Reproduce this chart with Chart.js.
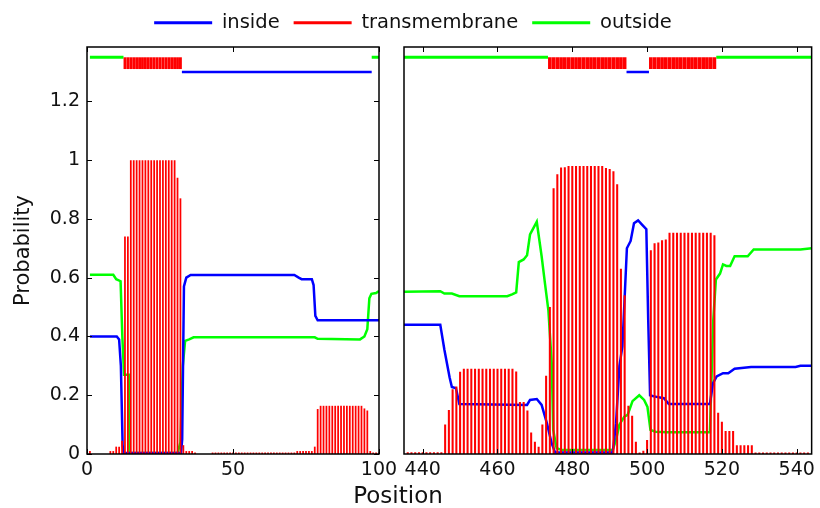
<!DOCTYPE html>
<html>
<head>
<meta charset="utf-8">
<script src="https://cdn.jsdelivr.net/npm/chart.js@4.4.1/dist/chart.umd.min.js"></script>
<style>
  html, body { margin: 0; padding: 0; background: #fff; }
  #fig { position: relative; width: 820px; height: 508px; overflow: hidden; }
  #fig canvas { position: absolute; }
</style>
</head>
<body>
<div id="fig">
  <canvas id="left" width="420" height="508" style="left:0;top:0"></canvas>
  <canvas id="right" width="430" height="508" style="left:390px;top:0"></canvas>
  <canvas id="legend" width="820" height="60" style="left:0;top:-1px"></canvas>
  <canvas id="xtitle" width="796" height="508" style="left:0;top:3px"></canvas>
</div>

<script>
Chart.defaults.font.family = "'DejaVu Sans', sans-serif";
Chart.defaults.color = '#111';
Chart.defaults.animation = false;

// legend / series
const seriesNames = ['inside', 'transmembrane', 'outside'];
const seriesColors = ['#0000ff', '#ff0000', '#00ff00'];

// ticks
const yTicks = [0, 0.2, 0.4, 0.6, 0.8, 1, 1.2];
const leftXTicks = [0, 50, 100];
const rightXTicks = [440, 460, 480, 500, 520, 540];

// transmembrane probability per residue, left panel starts at residue 1
const leftStart = 1;
const leftTM = [
  0.01, 0, 0, 0, 0, 0, 0, 0.01, 0.01, 0.025,
  0.025, 0.045, 0.74, 0.74, 1, 1, 1, 1, 1, 1,
  1, 1, 1, 1, 1, 1, 1, 1, 1, 1,
  0.94, 0.87, 0.03, 0.01, 0.01, 0.01, 0.005, 0, 0, 0,
  0, 0, 0.005, 0.005, 0.005, 0.005, 0.005, 0.005, 0.005, 0.005,
  0.005, 0.005, 0.005, 0.005, 0.005, 0.005, 0.005, 0.005, 0.005, 0.005,
  0.005, 0.005, 0.005, 0.005, 0.005, 0.005, 0.005, 0.005, 0.005, 0.005,
  0.005, 0.01, 0.01, 0.01, 0.01, 0.01, 0.01, 0.025, 0.153, 0.164,
  0.164, 0.164, 0.164, 0.164, 0.164, 0.164, 0.164, 0.164, 0.164, 0.164,
  0.164, 0.164, 0.164, 0.164, 0.155, 0.148, 0.01, 0.005, 0.005, 0.005
];

// right panel starts at residue 435
const rightStart = 435;
const rightTM = [
  0, 0.006, 0.006, 0.006, 0.006, 0.006, 0.006, 0.006, 0.006, 0.006,
  0.006, 0.10, 0.15, 0.22, 0.23, 0.28, 0.29, 0.29, 0.29, 0.29,
  0.29, 0.29, 0.29, 0.29, 0.29, 0.29, 0.29, 0.29, 0.29, 0.29,
  0.281, 0.177, 0.177, 0.148, 0.073, 0.042, 0.025, 0.10, 0.266, 0.50,
  0.904, 0.952, 0.975, 0.976, 0.98, 0.98, 0.98, 0.98, 0.98, 0.98,
  0.98, 0.98, 0.98, 0.98, 0.973, 0.97, 0.962, 0.918, 0.63, 0.54,
  0.164, 0.13, 0.042, 0.005, 0.011, 0.048, 0.693, 0.717, 0.72, 0.727,
  0.73, 0.753, 0.753, 0.753, 0.753, 0.753, 0.753, 0.753, 0.753, 0.753,
  0.753, 0.753, 0.753, 0.744, 0.14, 0.11, 0.078, 0.078, 0.078, 0.03,
  0.03, 0.03, 0.03, 0.03, 0.005, 0.005, 0.005, 0.005, 0.005, 0.005,
  0.005, 0.005, 0.005, 0.005, 0.005, 0.005, 0.005, 0.005, 0.005, 0
];

// inside / outside probability curves, [position, value]
const leftInside = [
  [1, 0.40], [10.2, 0.40], [11, 0.39], [11.6, 0.30], [12.2, 0.03], [12.6, 0.003],
  [32.2, 0.003], [32.6, 0.05], [33.2, 0.57], [34, 0.60], [35.5, 0.609], [71, 0.609],
  [72.5, 0.60], [73.5, 0.595], [77, 0.595], [77.6, 0.575], [78.2, 0.47], [79, 0.455],
  [100, 0.455]
];
const leftOutside = [
  [1, 0.61], [9, 0.61], [10, 0.595], [11.5, 0.588], [12.1, 0.40], [12.7, 0.27],
  [14.3, 0.27], [14.6, 0.003], [31, 0.003], [32, 0.04], [32.8, 0.30], [33.6, 0.385],
  [35, 0.39], [36.5, 0.397], [78, 0.397], [79, 0.392], [93.5, 0.39], [95, 0.40],
  [96, 0.425], [96.7, 0.53], [97.4, 0.545], [99, 0.548], [100, 0.555]
];
const rightInside = [
  [435, 0.44], [444.7, 0.44], [445.8, 0.355], [447.2, 0.26], [447.8, 0.228], [448.9, 0.224],
  [449.8, 0.17], [467.9, 0.167], [468.7, 0.184], [470.5, 0.187], [471.8, 0.167], [473.2, 0.105],
  [474.5, 0.036], [475.4, 0.005], [490.8, 0.005], [491.7, 0.105], [492.6, 0.30], [493.4, 0.366],
  [494.6, 0.70], [495.6, 0.725], [496.5, 0.785], [497.6, 0.795], [498.7, 0.78], [499.8, 0.765],
  [500.3, 0.457], [500.8, 0.20], [501.8, 0.196], [504.5, 0.19], [505.8, 0.17], [516.8, 0.17],
  [517.6, 0.24], [518.6, 0.264], [520.3, 0.275], [521.7, 0.275], [523.4, 0.29], [527.8, 0.296],
  [539.7, 0.296], [541, 0.30], [544, 0.30]
];
const rightOutside = [
  [435, 0.552], [444.7, 0.554], [445.8, 0.546], [447.8, 0.546], [449.8, 0.537], [462.6, 0.537],
  [463.9, 0.543], [465, 0.55], [465.7, 0.653], [467, 0.662], [467.9, 0.676], [468.7, 0.747],
  [470.5, 0.79], [471.8, 0.673], [472.7, 0.58], [473.6, 0.49], [474.5, 0.31], [474.9, 0.082],
  [475.8, 0.02], [477.1, 0.014], [490.8, 0.014], [491.7, 0.048], [492.6, 0.10], [493.9, 0.127],
  [494.8, 0.133], [496.1, 0.18], [497.9, 0.20], [499.2, 0.184], [500.1, 0.16], [500.9, 0.082],
  [502.2, 0.076], [505.3, 0.074], [516.8, 0.074], [517.7, 0.457], [518.4, 0.594], [519.5, 0.614],
  [520.3, 0.645], [521.2, 0.64], [522.2, 0.64], [523.4, 0.673], [526.9, 0.673], [528.5, 0.696],
  [541, 0.696], [544, 0.70]
];

// predicted topology drawn as a strip above the curves
const stripLevels = { outside: 1.35, tmLow: 1.31, tmHigh: 1.35, inside: 1.30 };
const leftTopology = {
  outside: [[1, 12.5], [97.5, 100]],
  tm: [[12.5, 32.5]],
  inside: [[32.5, 97.5]]
};
const rightTopology = {
  outside: [[435, 473.5], [518.5, 544]],
  tm: [[473.5, 494.5], [500.5, 518.5]],
  inside: [[494.5, 500.5]]
};

function toPoints(pairs) {
  return pairs.map(p => ({ x: p[0], y: p[1] }));
}
function barPoints(start, values) {
  return values.map((v, i) => ({ x: start + i, y: v }));
}
function segLine(segs, level) {
  const pts = [];
  segs.forEach(s => {
    pts.push({ x: s[0], y: level }, { x: s[1], y: level }, { x: s[1], y: null });
  });
  return pts;
}
function tmStrip(segs) {
  const pts = [];
  segs.forEach(s => {
    for (let n = Math.ceil(s[0]); n + 0.5 <= s[1]; n++) {
      pts.push({ x: n, y: [stripLevels.tmLow, stripLevels.tmHigh] });
    }
  });
  return pts;
}

const blue = seriesColors[0], red = seriesColors[1], green = seriesColors[2];

function panelDatasets(start, tm, inside, outside, topo, barPct) {
  return [
    { type: 'line', label: 'inside', data: toPoints(inside), borderColor: blue,
      borderWidth: 2.5, pointRadius: 0, order: 2 },
    { type: 'line', label: 'outside', data: toPoints(outside), borderColor: green,
      borderWidth: 2.5, pointRadius: 0, order: 2 },
    { type: 'bar', label: 'transmembrane', data: barPoints(start, tm), backgroundColor: red,
      barPercentage: barPct, categoryPercentage: 1, grouped: false, order: 1 },
    { type: 'line', label: 'inside strip', data: segLine(topo.inside, stripLevels.inside),
      borderColor: blue, borderWidth: 2.5, pointRadius: 0, order: 2 },
    { type: 'line', label: 'outside strip', data: segLine(topo.outside, stripLevels.outside),
      borderColor: green, borderWidth: 3, pointRadius: 0, order: 2 },
    { type: 'bar', label: 'tm strip', data: tmStrip(topo.tm), backgroundColor: red,
      barPercentage: 0.97, categoryPercentage: 1, grouped: false, order: 1 }
  ];
}

// box round the plot area with inward ticks, like the original axes
const framePlugin = {
  id: 'frame',
  afterDraw(chart, args, opts) {
    const { ctx, chartArea: a, scales } = chart;
    const len = 5;
    ctx.save();
    ctx.strokeStyle = '#000';
    ctx.lineWidth = 1.5;
    ctx.strokeRect(a.left, a.top, a.right - a.left, a.bottom - a.top);
    ctx.lineWidth = 1;
    ctx.beginPath();
    scales.x.ticks.forEach(t => {
      const px = Math.round(scales.x.getPixelForValue(t.value)) + 0.5;
      ctx.moveTo(px, a.bottom); ctx.lineTo(px, a.bottom - len);
      ctx.moveTo(px, a.top); ctx.lineTo(px, a.top + len);
    });
    if (opts.yTicks) {
      scales.y.ticks.forEach(t => {
        const py = Math.round(scales.y.getPixelForValue(t.value)) + 0.5;
        ctx.moveTo(a.left, py); ctx.lineTo(a.left + len, py);
        ctx.moveTo(a.right, py); ctx.lineTo(a.right - len, py);
      });
    }
    ctx.stroke();
    ctx.restore();
  }
};

const tickFont = { size: 19 };

function xScale(min, max, ticks) {
  return {
    type: 'linear', min: min, max: max, offset: false,
    grid: { display: false, drawTicks: false },
    border: { display: false },
    ticks: { padding: 5, font: tickFont, maxRotation: 0, autoSkip: false, callback: v => String(v) },
    afterBuildTicks: s => { s.ticks = ticks.map(v => ({ value: v })); },
    afterFit: s => { s.height = 54; }
  };
}

new Chart(document.getElementById('left'), {
  type: 'bar',
  data: { datasets: panelDatasets(leftStart, leftTM, leftInside, leftOutside, leftTopology, 0.6) },
  options: {
    responsive: false,
    layout: { padding: { top: 47, right: 41, bottom: 0, left: 0 } },
    scales: {
      x: xScale(0, 100, leftXTicks),
      y: {
        type: 'linear', min: 0, max: 1.385,
        grid: { display: false, drawTicks: false },
        border: { display: false },
        ticks: { padding: 7, font: tickFont, callback: v => String(v) },
        afterBuildTicks: s => { s.ticks = yTicks.map(v => ({ value: v })); },
        title: { display: true, text: 'Probability', font: { size: 21 }, padding: { top: 11, bottom: 0 } },
        afterFit: s => { s.width = 87; }
      }
    },
    plugins: { legend: { display: false }, tooltip: { enabled: false }, frame: { yTicks: true } }
  },
  plugins: [framePlugin]
});

new Chart(document.getElementById('right'), {
  type: 'bar',
  data: { datasets: panelDatasets(rightStart, rightTM, rightInside, rightOutside, rightTopology, 0.55) },
  options: {
    responsive: false,
    layout: { padding: { top: 47, right: 5, bottom: 0, left: 14 } },
    scales: {
      x: xScale(435, 544, rightXTicks),
      y: { type: 'linear', min: 0, max: 1.385, display: false }
    },
    plugins: { legend: { display: false }, tooltip: { enabled: false }, frame: { yTicks: false } }
  },
  plugins: [framePlugin]
});

// shared legend across both panels
new Chart(document.getElementById('legend'), {
  type: 'line',
  data: {
    datasets: seriesNames.map((n, i) => ({
      label: n, data: [], borderColor: seriesColors[i], backgroundColor: seriesColors[i], borderWidth: 3
    }))
  },
  options: {
    responsive: false,
    layout: { padding: { left: 6 } },
    scales: { x: { display: false }, y: { display: false } },
    plugins: {
      tooltip: { enabled: false },
      legend: {
        display: true, position: 'top',
        labels: { usePointStyle: true, pointStyle: 'line', pointStyleWidth: 58, padding: 14, font: { size: 19.5 } }
      }
    }
  }
});

// shared x axis title
new Chart(document.getElementById('xtitle'), {
  type: 'line',
  data: { datasets: [] },
  options: {
    responsive: false,
    scales: { x: { display: false }, y: { display: false } },
    plugins: {
      legend: { display: false },
      tooltip: { enabled: false },
      title: {
        display: true, text: 'Position', position: 'bottom',
        font: { size: 23, weight: 'normal' }, padding: { top: 0, bottom: 0 }
      }
    }
  }
});
</script>
</body>
</html>
